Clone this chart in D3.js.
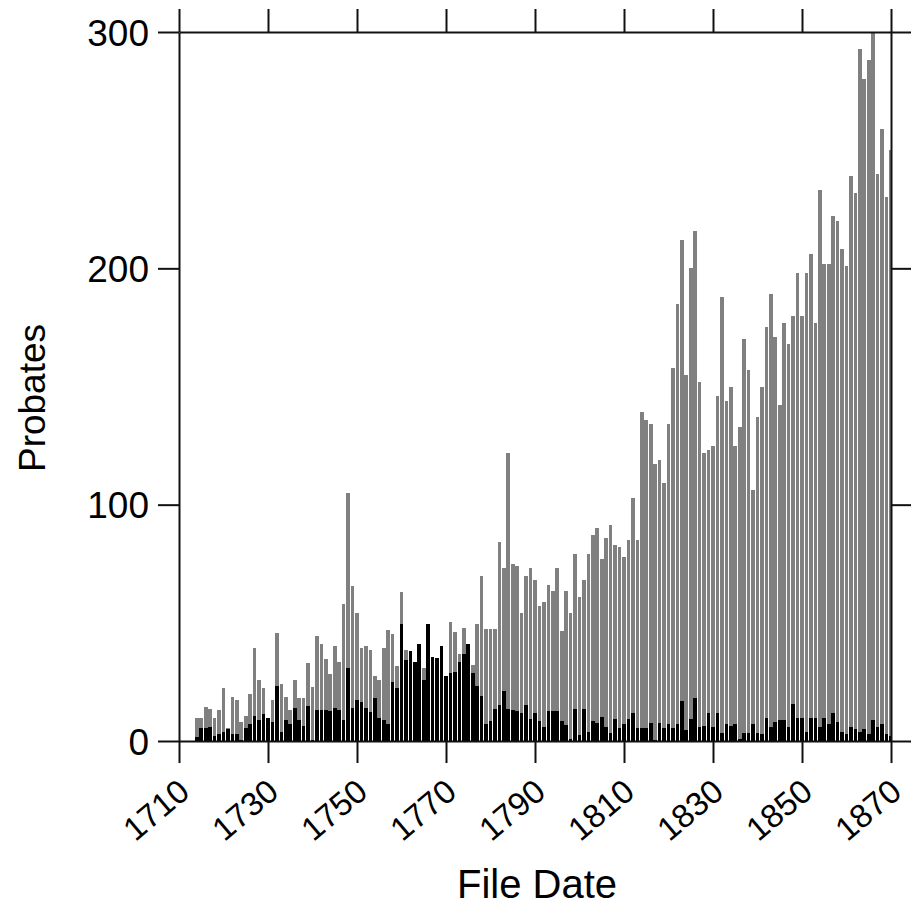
<!DOCTYPE html>
<html>
<head>
<meta charset="utf-8">
<script src="https://cdn.jsdelivr.net/npm/d3@7"></script>
<style>
  html, body { margin: 0; padding: 0; background: #fff; }
  svg { display: block; }
  text { font-family: "Liberation Sans", Arial, sans-serif; fill: #000; }
</style>
</head>
<body>
<svg id="chart" width="911" height="905"></svg>
<script>
// ---- data ----
const years = d3.range(1714, 1871);
const totalProbates = [
  9.6, 9.6, 14.5, 13.5, 9.6, 13.1, 22.3, 5.6, 18.8, 17.3,          // 1714-1723
  8.2, 10.7, 19.7, 39.2, 25.8, 22.3, 9.6, 17.3, 45.8, 24,           // 1724-1733
  18.8, 13.1, 25.8, 18, 18, 33.1, 23, 44.4, 41, 34.5,               // 1734-1743
  28.4, 40.2, 33.4, 58, 105, 65.6, 54, 39.4, 40.2, 38.6,            // 1744-1753
  27.4, 26, 39.3, 47, 45.2, 31.7, 63, 38.5, 36, 32,                 // 1754-1763
  39, 30.7, 46, 34, 34, 39, 26, 50.2, 46, 36.7,                     // 1764-1773
  47.7, 41, 32, 49.4, 70, 47.5, 47.5, 47.5, 84, 73,                 // 1774-1783
  122, 75, 74, 54, 70, 73, 68, 57, 59, 66,                          // 1784-1793
  63.5, 73, 46.5, 63.5, 54, 79, 61, 68, 79, 87,                     // 1794-1803
  90, 77, 86, 91.5, 83, 82, 78, 85, 103, 85,                        // 1804-1813
  139, 136, 134, 117, 119, 109, 134, 158, 185, 212,                 // 1814-1823
  155, 200, 216, 152, 122, 123, 125, 146, 188, 144,                 // 1824-1833
  150, 125, 133, 170, 157, 106, 137, 150, 175, 189,                 // 1834-1843
  171, 142, 177, 168, 180, 198, 180, 198, 206, 177,                 // 1844-1853
  233, 202, 202, 222, 220, 208, 201, 239, 232, 293,                 // 1854-1863
  280, 288, 300, 240, 259, 230, 250                                 // 1864-1870
];
const subsetProbates = [
  1.8, 5.4, 5.4, 6, 2.1, 3, 4, 5, 2.8, 2.8,                         // 1714-1723
  0.5, 5.4, 7, 10.6, 8.9, 11.3, 9.6, 7.9, 23.3, 3.7,                // 1724-1733
  8.9, 7, 13.8, 8.9, 6.3, 14.8, 0.5, 13.1, 13, 13,                  // 1734-1743
  12.5, 14, 13, 9, 31, 14, 17.4, 16.4, 14, 12.2,                    // 1744-1753
  18, 9.7, 8.8, 7.3, 24.9, 22.4, 49.5, 34.4, 38.2, 33.3,            // 1754-1763
  40.9, 25.8, 49.4, 35.7, 35, 40.2, 27.5, 28.8, 29.3, 33.4,         // 1764-1773
  36.8, 41, 28.6, 23.4, 19.2, 7.2, 8.3, 13.4, 15.1, 21,             // 1774-1783
  13.4, 13, 12.6, 11.8, 15.4, 9.2, 11.8, 8.3, 5.9, 12.6,            // 1784-1793
  12.6, 12.6, 8.3, 6.6, 0.7, 13.4, 2.4, 13.4, 4, 8.3,               // 1794-1803
  7.5, 10, 6, 3.4, 9.2, 5.6, 7, 9.2, 12, 5.4,                       // 1804-1813
  5.4, 5.4, 7.8, 0.4, 7.8, 5.4, 7, 5.4, 7, 17,                      // 1814-1823
  4.7, 9.2, 18, 6, 6.3, 12, 6, 11.7, 3.5, 7,                        // 1824-1833
  6.3, 7, 0.7, 3.2, 3.5, 7, 3.5, 3, 9.8, 5.9,                       // 1834-1843
  8.2, 8.8, 8.8, 5.9, 15.6, 9.8, 9.8, 3.9, 9.8, 9.8,                // 1844-1853
  5.9, 9.8, 7.4, 11.7, 8.2, 3.9, 3, 5.9, 4.9, 3.9,                  // 1854-1863
  4.9, 3, 8.8, 5.9, 7.4, 3, 2                                       // 1864-1870
];
const xTicks = [1710, 1730, 1750, 1770, 1790, 1810, 1830, 1850, 1870];
const yTicks = [0, 100, 200, 300];

// ---- layout ----
const svg = d3.select("#chart");
const pL = 179, pR = 891, pT = 32, pB = 741;
const x = d3.scaleLinear().domain([1710, 1870]).range([pL, pR]);
const y = d3.scaleLinear().domain([0, 300]).range([pB, pT]);
const step = x(1711) - x(1710);
const barW = step - 0.8;

svg.append("defs").append("clipPath").attr("id", "plotclip")
  .append("rect").attr("x", pL).attr("y", pT - 2)
  .attr("width", pR - pL).attr("height", pB - pT + 2);

const bars = svg.append("g").attr("clip-path", "url(#plotclip)")
  .attr("shape-rendering", "crispEdges");

bars.selectAll("rect.total").data(years).enter().append("rect")
  .attr("class", "total")
  .attr("x", (d) => x(d) - barW / 2)
  .attr("width", barW)
  .attr("y", (d, i) => y(totalProbates[i]))
  .attr("height", (d, i) => pB - y(totalProbates[i]))
  .attr("fill", "#808080");

bars.selectAll("rect.subset").data(years).enter().append("rect")
  .attr("class", "subset")
  .attr("x", (d) => x(d) - barW / 2)
  .attr("width", barW)
  .attr("y", (d, i) => y(subsetProbates[i]))
  .attr("height", (d, i) => pB - y(subsetProbates[i]))
  .attr("fill", "#000");

// ---- axes ----
function styleAxis(g) {
  g.selectAll("path.domain").attr("stroke", "#111").attr("stroke-width", 2);
  g.selectAll(".tick line").attr("stroke", "#111").attr("stroke-width", 2);
  g.selectAll("text").attr("font-family", "'Liberation Sans', Arial, sans-serif");
}

const gB = svg.append("g").attr("transform", `translate(0,${pB})`)
  .call(d3.axisBottom(x).tickValues(xTicks).tickFormat(d3.format("d"))
    .tickSize(22).tickSizeOuter(0));
styleAxis(gB);
gB.selectAll("text")
  .attr("font-size", 33)
  .attr("text-anchor", "end")
  .attr("dy", 0)
  .attr("y", 0)
  .attr("transform", "translate(12,54) rotate(-40)");

const gT = svg.append("g").attr("transform", `translate(0,${pT})`)
  .call(d3.axisTop(x).tickValues(xTicks).tickFormat("").tickSize(23).tickSizeOuter(0));
styleAxis(gT);

const gL = svg.append("g").attr("transform", `translate(${pL},0)`)
  .call(d3.axisLeft(y).tickValues(yTicks).tickFormat(d3.format("d"))
    .tickSize(21).tickSizeOuter(0).tickPadding(9));
styleAxis(gL);
gL.selectAll("text").attr("font-size", 37).attr("dy", "0.36em");

const gR = svg.append("g").attr("transform", `translate(${pR},0)`)
  .call(d3.axisRight(y).tickValues(yTicks).tickFormat("").tickSize(21).tickSizeOuter(0));
styleAxis(gR);

// ---- titles ----
svg.append("text")
  .attr("x", 537)
  .attr("y", 898)
  .attr("text-anchor", "middle")
  .attr("font-size", 40)
  .text("File Date");

svg.append("text")
  .attr("transform", `translate(45,398) rotate(-90)`)
  .attr("text-anchor", "middle")
  .attr("font-size", 37)
  .text("Probates");
</script>
</body>
</html>
